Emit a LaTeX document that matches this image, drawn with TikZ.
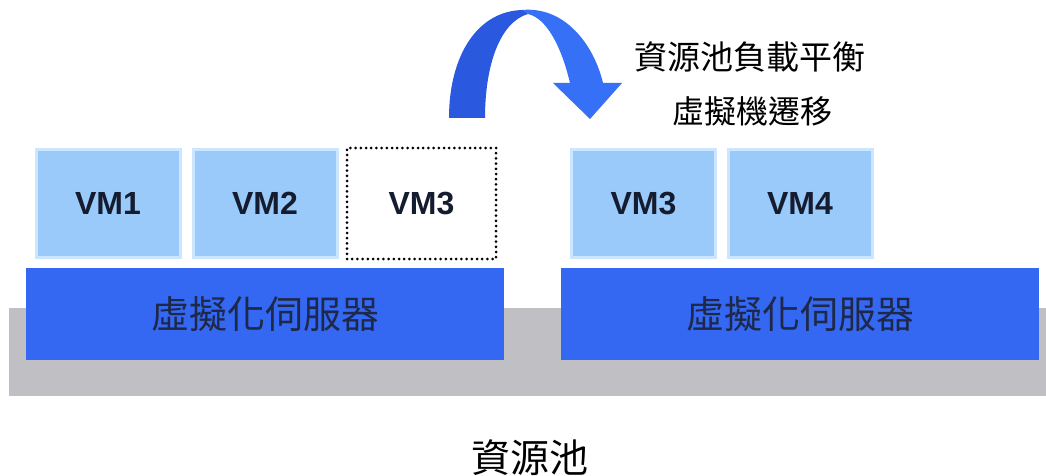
\documentclass[tikz,border=0pt]{standalone}
\usepackage{fontspec}
\setmainfont{Liberation Sans}
\newfontfamily\cjk{Noto Sans CJK TC}
\definecolor{vmfill}{RGB}{153,202,250}
\definecolor{vmedge}{RGB}{205,230,255}
\definecolor{srvblue}{RGB}{52,104,242}
\definecolor{pool}{RGB}{192,192,196}
\definecolor{ink}{RGB}{22,28,48}
\definecolor{srvink}{RGB}{30,40,72}
\definecolor{arrdark}{RGB}{42,88,222}
\definecolor{arrlight}{RGB}{54,112,246}
\begin{document}
\begin{tikzpicture}[x=1pt,y=-1pt,
  vmbox/.style={fill=vmfill,draw=vmedge,line width=3pt,minimum width=144pt,minimum height=108pt,inner sep=0pt,
    font=\fontsize{32}{32}\selectfont\bfseries,text=ink},
  ghostbox/.style={draw=black,line width=3pt,dash pattern=on 0pt off 5.2pt,line cap=round,
    minimum width=149pt,minimum height=111pt,inner sep=0pt,
    font=\fontsize{32}{32}\selectfont\bfseries,text=ink},
  server/.style={fill=srvblue,minimum width=478pt,minimum height=92pt,inner sep=0pt,
    font=\cjk\fontsize{38}{38}\selectfont,text=srvink},
  label/.style={inner sep=0pt,font=\cjk\fontsize{32}{32}\selectfont,text=black}]
\useasboundingbox (0,0) rectangle (1046,476);
\fill[white] (0,0) rectangle (1046,476);
% resource pool band
\fill[pool] (9,308) rectangle (1046,396);
% servers
\node[server] (srvL) at (265,314) {虛擬化伺服器};
\node[server] (srvR) at (800,314) {虛擬化伺服器};
% VMs
\node[vmbox] (vm1) at (108,203.5) {VM1};
\node[vmbox] (vm2) at (265,203.5) {VM2};
\node[ghostbox] (vm3old) at (421.5,203.5) {VM3};
\node[vmbox] (vm3) at (643.5,203.5) {VM3};
\node[vmbox] (vm4) at (800,203.5) {VM4};
% migration arrow
\fill[arrdark] (449,118) .. controls (449,55) and (478,10) .. (524,10)
  -- (528,14) .. controls (500,22) and (485,65) .. (485,118) -- cycle;
\fill[arrlight] (522,10) .. controls (565,6) and (594,45) .. (603,83)
  -- (622,83) -- (590,119) -- (553,83) -- (570,83)
  .. controls (561,45) and (546,18) .. (528,14) -- cycle;
% labels
\node[label,font=\cjk\fontsize{33}{33}\selectfont] (t1) at (750,57) {資源池負載平衡};
\node[label] (t2) at (752,111) {虛擬機遷移};
\node[label,font=\cjk\fontsize{39}{39}\selectfont] (pooltxt) at (530,458) {資源池};
\end{tikzpicture}
\end{document}
